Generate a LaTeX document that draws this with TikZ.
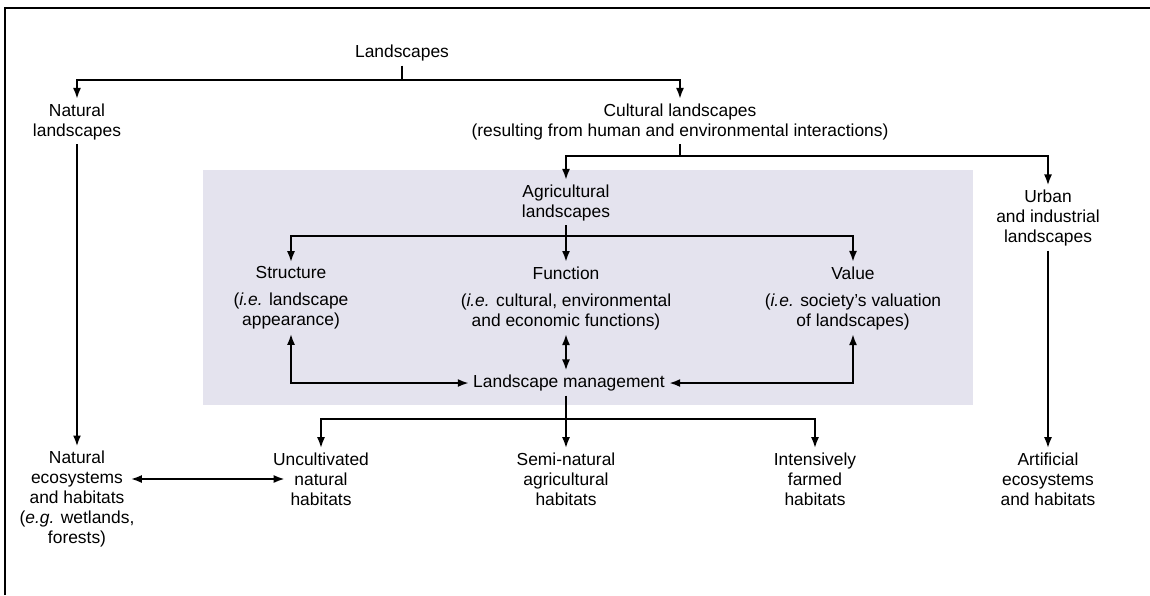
\documentclass[tikz,border=0pt]{standalone}
\usepackage{fontspec}
\setmainfont{Liberation Sans}
\usetikzlibrary{arrows.meta}
\definecolor{boxgray}{HTML}{E4E3EE}
\tikzset{
  txt/.style={align=center, inner sep=2pt, font=\fontsize{8.7}{10}\selectfont},
  ln/.style={line width=1pt},
  arr/.style={ln, -{Latex[length=5.5pt,width=4pt]}},
  arrb/.style={ln, {Latex[length=5.5pt,width=4pt]}-{Latex[length=5.5pt,width=4pt]}},
}
\begin{document}
\begin{tikzpicture}[x=0.5pt,y=-0.5pt]
\useasboundingbox (0,0) rectangle (1150,595);
% frame
\draw[line width=1pt] (5,595) -- (5,8) -- (1150,8);
% background box
\fill[boxgray] (203,170) rectangle (973,405);

\node[txt] (L) at (402,53) {Landscapes};
\node[txt] (NL) at (77,121.5) {Natural\\landscapes};
\node[txt] (CL) at (680,121.5) {Cultural landscapes\\(resulting from human and environmental interactions)};
\node[txt] (AL) at (566,202.5) {Agricultural\\landscapes};
\node[txt] (UL) at (1048,218) {Urban\\and industrial\\landscapes};
\node[txt] (ST) at (291,298) {Structure\\[3.5pt](\textit{i.e.} landscape\\appearance)};
\node[txt] (FN) at (566,298) {Function\\[3.5pt](\textit{i.e.} cultural, environmental\\and economic functions)};
\node[txt] (VA) at (853,298) {Value\\[3.5pt](\textit{i.e.} society's valuation\\of landscapes)};
\node[txt] (LM) at (569,383) {Landscape management};
\node[txt] (NE) at (77,499) {Natural\\ecosystems\\and habitats\\(\textit{e.g.} wetlands,\\forests)};
\node[txt] (UN) at (321,479) {Uncultivated\\natural\\habitats};
\node[txt] (SN) at (566,479) {Semi-natural\\agricultural\\habitats};
\node[txt] (IF) at (815,479) {Intensively\\farmed\\habitats};
\node[txt] (AE) at (1048,479) {Artificial\\ecosystems\\and habitats};

\coordinate (b1) at (402,80);
\coordinate (b2) at (680,156);
\coordinate (b3) at (566,236);
\coordinate (b4) at (566,419);

\draw[ln] (L.south) -- (b1);
\draw[arr] (b1) -| (NL.north);
\draw[arr] (b1) -| (CL.north);
\draw[arr] (NL.south) -- (NE.north);
\draw[ln] (CL.south) -- (b2);
\draw[arr] (b2) -| (AL.north);
\draw[arr] (b2) -| (UL.north);
\draw[arr] (AL.south) -- (FN.north);
\draw[arr] (b3) -| (ST.north);
\draw[arr] (b3) -| (VA.north);
\draw[arrb] (ST.south) |- (LM.west);
\draw[arrb] (VA.south) |- (LM.east);
\draw[arrb] (FN.south) -- (FN.south |- LM.north);
\draw[arr] (SN.north |- LM.south) -- (SN.north);
\draw[arr] (b4) -| (UN.north);
\draw[arr] (b4) -| (IF.north);
\draw[arr] (UL.south) -- (AE.north);
\draw[arrb] ([xshift=-4pt]NE.east |- UN.center) -- ([xshift=8pt]UN.west);
\end{tikzpicture}
\end{document}
